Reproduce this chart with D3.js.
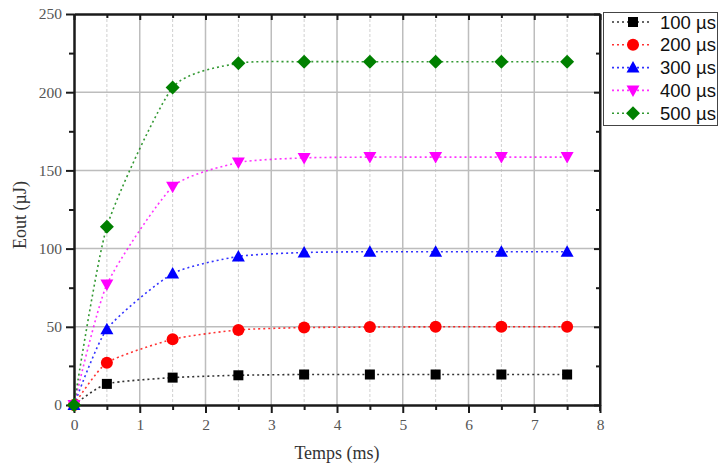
<!DOCTYPE html>
<html><head><meta charset="utf-8">
<script src="https://cdn.jsdelivr.net/npm/d3@7"></script>
<style>body{margin:0;background:#fff}svg{display:block}
.ser{font-family:"Liberation Serif","Times New Roman",serif}
</style>
</head><body><svg id="c" width="719" height="466"></svg>
<script>
const times = [0, 0.5, 1.5, 2.5, 3.5, 4.5, 5.5, 6.5, 7.5];
const s100 = [0, 13.5, 17.5, 19, 19.5, 19.5, 19.5, 19.5, 19.5];
const s200 = [0, 27, 42, 48, 49.5, 49.8, 50, 50, 50];
const s300 = [0, 48.5, 84, 95, 97.5, 98, 98, 98, 98];
const s400 = [0, 77, 139.5, 155, 158, 158.5, 158.5, 158.5, 158.5];
const s500 = [0, 114, 203, 218.5, 219.5, 219.5, 219.5, 219.5, 219.5];
const seriesNames = ["100 µs", "200 µs", "300 µs", "400 µs", "500 µs"];
const xTicks = [0, 1, 2, 3, 4, 5, 6, 7, 8];
const yTicks = [0, 50, 100, 150, 200, 250];

const colors = ["#000000", "#ff0000", "#0000ff", "#ff00ff", "#008000"];
const symbols = ["square", "circle", "tri-up", "tri-down", "diamond"];
const allSeries = [s100, s200, s300, s400, s500];

const svg = d3.select("#c");
const L = 74, R = 600, T = 14, B = 405;
const x = d3.scaleLinear().domain([0, 8]).range([L, R]);
const y = d3.scaleLinear().domain([0, 250]).range([B, T]);

// grid
const g = svg.append("g");
g.selectAll(".vmin").data(d3.range(0.5, 8, 1)).join("line")
  .attr("x1", d => x(d)).attr("x2", d => x(d)).attr("y1", T).attr("y2", B)
  .attr("stroke", "#d0d0d0").attr("stroke-width", 1).attr("stroke-dasharray", "3,2");
g.selectAll(".vmaj").data(xTicks.slice(1, -1)).join("line")
  .attr("x1", d => x(d)).attr("x2", d => x(d)).attr("y1", T).attr("y2", B)
  .attr("stroke", "#bdbdbd").attr("stroke-width", 1.5);
g.selectAll(".hmaj").data(yTicks.slice(1, -1)).join("line")
  .attr("x1", L).attr("x2", R).attr("y1", d => y(d)).attr("y2", d => y(d))
  .attr("stroke", "#bdbdbd").attr("stroke-width", 1.5);

// axes
const xAx = svg.append("g").attr("transform", `translate(0,${B})`)
  .call(d3.axisBottom(x).tickValues(xTicks).tickFormat(d3.format("d")).tickSize(8).tickSizeOuter(0).tickPadding(6));
const xMin = svg.append("g").attr("transform", `translate(0,${B})`)
  .call(d3.axisBottom(x).tickValues(d3.range(0.5, 8, 1)).tickFormat("").tickSize(5).tickSizeOuter(0));
const yAx = svg.append("g").attr("transform", `translate(${L},0)`)
  .call(d3.axisLeft(y).tickValues(yTicks).tickSize(8).tickSizeOuter(0).tickPadding(4));
const yMin = svg.append("g").attr("transform", `translate(${L},0)`)
  .call(d3.axisLeft(y).tickValues(d3.range(25, 250, 50)).tickFormat("").tickSize(5).tickSizeOuter(0));
const xTop = svg.append("g").attr("transform", `translate(0,${T})`)
  .call(d3.axisTop(x).tickValues(xTicks).tickFormat("").tickSize(-6).tickSizeOuter(0));
const xTopMin = svg.append("g").attr("transform", `translate(0,${T})`)
  .call(d3.axisTop(x).tickValues(d3.range(0.5, 8, 1)).tickFormat("").tickSize(-4).tickSizeOuter(0));
const yR = svg.append("g").attr("transform", `translate(${R},0)`)
  .call(d3.axisRight(y).tickValues(yTicks).tickFormat("").tickSize(-6).tickSizeOuter(0));
const yRMin = svg.append("g").attr("transform", `translate(${R},0)`)
  .call(d3.axisRight(y).tickValues(d3.range(25, 250, 50)).tickFormat("").tickSize(-4).tickSizeOuter(0));
[xAx, xMin, yAx, yMin, xTop, xTopMin, yR, yRMin].forEach(a => {
  a.attr("font-family", null);
  a.select(".domain").attr("stroke", "#1a1a1a").attr("stroke-width", 2);
  a.selectAll(".tick line").attr("stroke", "#1a1a1a").attr("stroke-width", 2);
  a.selectAll(".tick text").attr("class", "ser").style("font-size", "15.5px").attr("fill", "#555");
});
yR.select(".domain").attr("d", `M${0},${T}V${B + 6}`);

// lines
const line = d3.line().x((d, i) => x(times[i])).y(d => y(d)).curve(d3.curveCardinal.tension(0.4));
function mark(sel, s, c) {
  if (s === "square") sel.append("rect").attr("x", -5).attr("y", -5).attr("width", 10).attr("height", 10).attr("fill", c);
  else if (s === "circle") sel.append("circle").attr("r", 6).attr("fill", c);
  else if (s === "tri-up") sel.append("path").attr("d", "M0,-6.5L6.5,5L-6.5,5Z").attr("fill", c);
  else if (s === "tri-down") sel.append("path").attr("d", "M0,6.5L6.5,-5L-6.5,-5Z").attr("fill", c);
  else sel.append("path").attr("d", "M0,-7L7,0L0,7L-7,0Z").attr("fill", c);
}
allSeries.forEach((vals, k) => {
  svg.append("path").datum(vals).attr("d", line).attr("fill", "none")
    .attr("stroke", colors[k]).attr("stroke-width", 1.6).attr("stroke-dasharray", "2,3").attr("opacity", 0.8);
});
allSeries.forEach((vals, k) => {
  svg.append("g").selectAll("g").data(vals).join("g")
    .attr("transform", (d, i) => `translate(${x(times[i])},${y(d)})`)
    .each(function () { mark(d3.select(this), symbols[k], colors[k]); });
});

// axis titles
svg.append("text").attr("class", "ser").attr("x", 337).attr("y", 459).attr("text-anchor", "middle")
  .style("font-size", "18px").attr("fill", "#333").text("Temps (ms)");
svg.append("text").attr("class", "ser").attr("transform", "translate(26,215) rotate(-90)").attr("text-anchor", "middle")
  .style("font-size", "18px").attr("fill", "#333").text("Eout (µJ)");

// legend
const lg = svg.append("g");
lg.append("rect").attr("x", 603.5).attr("y", 12.5).attr("width", 114).attr("height", 113)
  .attr("fill", "#fff").attr("stroke", "#444").attr("stroke-width", 1);
seriesNames.forEach((nm, k) => {
  const yy = 22 + k * 22.8;
  lg.append("line").attr("x1", 612).attr("x2", 652).attr("y1", yy).attr("y2", yy)
    .attr("stroke", colors[k]).attr("stroke-width", 1.6).attr("stroke-dasharray", "2,3").attr("opacity", 0.8);
  mark(lg.append("g").attr("transform", `translate(633,${yy})`), symbols[k], colors[k]);
  lg.append("text").attr("x", 660).attr("y", yy + 6.5).attr("font-family", "'Liberation Sans', Arial, sans-serif")
    .attr("font-size", 18.5).attr("fill", "#111").text(nm);
});
</script></body></html>
